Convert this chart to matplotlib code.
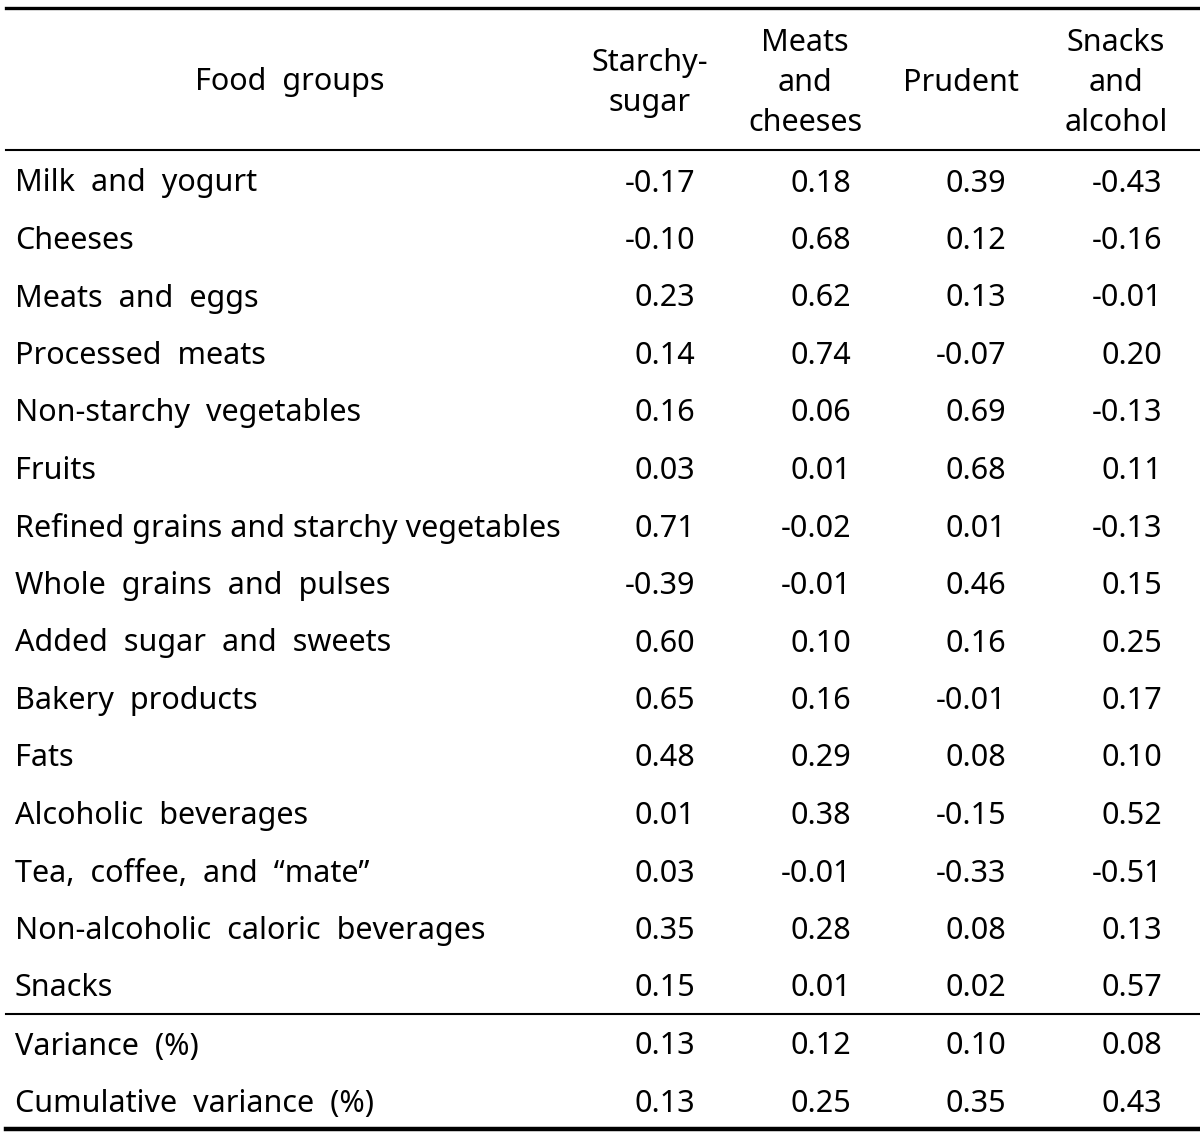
import matplotlib.pyplot as plt
from matplotlib.lines import Line2D

plt.rcParams['font.family'] = ['Noto Sans', 'DejaVu Sans']

# ---- table content ----
headers = ["Starchy-\nsugar", "Meats\nand\ncheeses", "Prudent", "Snacks\nand\nalcohol"]
food_groups = [
    "Milk  and  yogurt", "Cheeses", "Meats  and  eggs", "Processed  meats",
    "Non-starchy  vegetables", "Fruits", "Refined grains and starchy vegetables",
    "Whole  grains  and  pulses", "Added  sugar  and  sweets", "Bakery  products",
    "Fats", "Alcoholic  beverages", "Tea,  coffee,  and  \u201cmate\u201d",
    "Non-alcoholic  caloric  beverages", "Snacks",
]
starchy_sugar = [-0.17, -0.10, 0.23, 0.14, 0.16, 0.03, 0.71, -0.39, 0.60, 0.65, 0.48, 0.01, 0.03, 0.35, 0.15]
meats_cheeses = [0.18, 0.68, 0.62, 0.74, 0.06, 0.01, -0.02, -0.01, 0.10, 0.16, 0.29, 0.38, -0.01, 0.28, 0.01]
prudent = [0.39, 0.12, 0.13, -0.07, 0.69, 0.68, 0.01, 0.46, 0.16, -0.01, 0.08, -0.15, -0.33, 0.08, 0.02]
snacks_alcohol = [-0.43, -0.16, -0.01, 0.20, -0.13, 0.11, -0.13, 0.15, 0.25, 0.17, 0.10, 0.52, -0.51, 0.13, 0.57]

summary_labels = ["Variance  (%)", "Cumulative  variance  (%)"]
variance = [0.13, 0.12, 0.10, 0.08]
cumulative = [0.13, 0.25, 0.35, 0.43]

W, H = 1200, 1134
fig = plt.figure(figsize=(W / 100, H / 100), dpi=100)
fig.patch.set_facecolor('white')

def fx(x):
    return x / W

def fy(y):
    return 1 - y / H

def hline(y, lw):
    fig.add_artist(Line2D([fx(6), fx(1200)], [fy(y), fy(y)], color='black', lw=lw,
                          transform=fig.transFigure))

fs = 22
col_right = [695, 851, 1006, 1162]
col_center = [650, 805, 961, 1116]

# header
fig.text(fx(290), fy(82), "Food  groups", ha='center', va='center', fontsize=fs)
for cx, h in zip(col_center, headers):
    fig.text(fx(cx), fy(83), h, ha='center', va='center', fontsize=fs, linespacing=1.45)

hline(8, 2.4)
hline(150, 1.5)
hline(1014, 1.5)
hline(1129, 3.2)

row_y0 = 180
row_step = 57.5
cols = [starchy_sugar, meats_cheeses, prudent, snacks_alcohol]
for i, name in enumerate(food_groups):
    y = row_y0 + i * row_step
    fig.text(fx(15), fy(y), name, ha='left', va='center_baseline', fontsize=fs)
    for xr, col in zip(col_right, cols):
        fig.text(fx(xr), fy(y), f"{col[i]:.2f}", ha='right', va='center_baseline', fontsize=fs)

for j, (lab, vals) in enumerate(zip(summary_labels, [variance, cumulative])):
    y = 1043 + j * row_step
    fig.text(fx(15), fy(y), lab, ha='left', va='center_baseline', fontsize=fs)
    for xr, v in zip(col_right, vals):
        fig.text(fx(xr), fy(y), f"{v:.2f}", ha='right', va='center_baseline', fontsize=fs)

fig.savefig('out.png', dpi=100)
